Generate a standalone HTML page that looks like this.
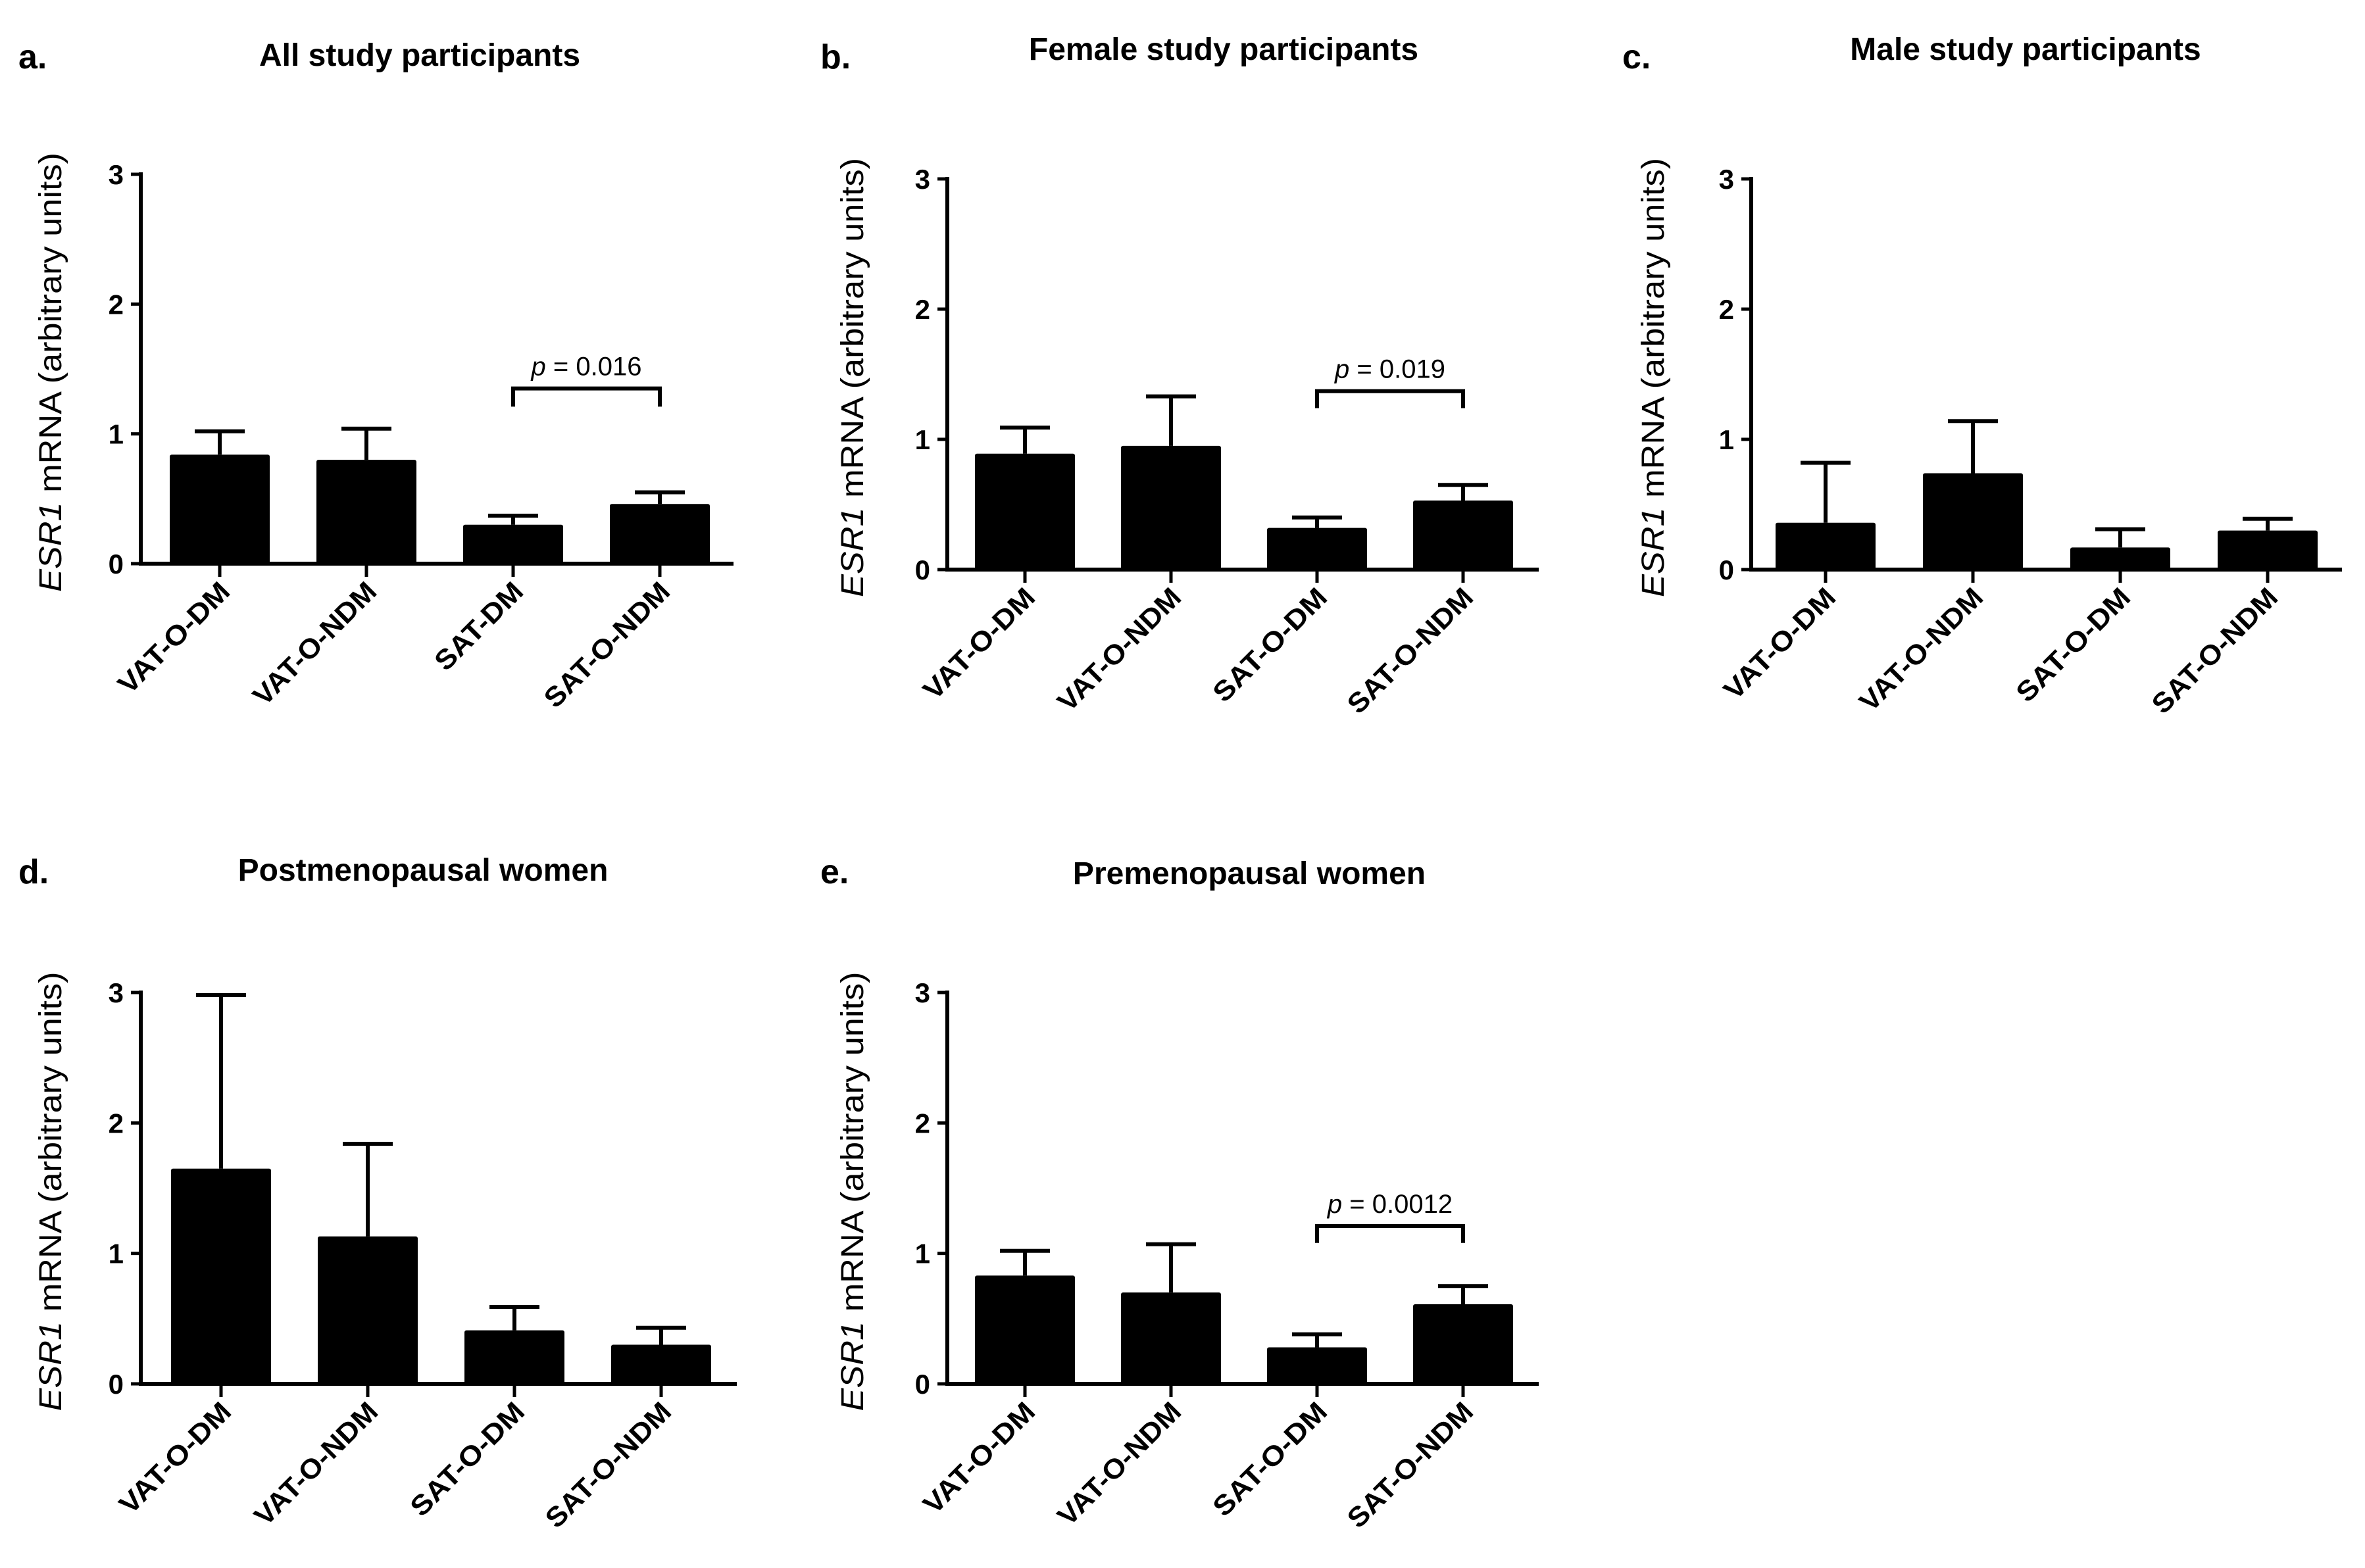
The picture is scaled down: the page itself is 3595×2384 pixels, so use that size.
<!DOCTYPE html>
<html><head><meta charset="utf-8"><style>
html,body{margin:0;padding:0;background:#fff;}
svg{display:block;font-family:"Liberation Sans",Arial,sans-serif;}
</style></head><body>
<svg id="fig" width="3595" height="2384" viewBox="0 0 3595 2384" xmlns="http://www.w3.org/2000/svg"></svg>
<script>
const categories = ["VAT-O-DM","VAT-O-NDM","SAT-O-DM","SAT-O-NDM"];
const categoriesA = ["VAT-O-DM","VAT-O-NDM","SAT-DM","SAT-O-NDM"];
const yTicks = [0,1,2,3];
const meanA = [0.84,0.80,0.30,0.46];
const errA  = [1.02,1.04,0.37,0.55];
const meanB = [0.89,0.95,0.32,0.53];
const errB  = [1.09,1.33,0.40,0.65];
const meanC = [0.36,0.74,0.17,0.30];
const errC  = [0.82,1.14,0.31,0.39];
const meanD = [1.65,1.13,0.41,0.30];
const errD  = [2.98,1.84,0.59,0.43];
const meanE = [0.83,0.70,0.28,0.61];
const errE  = [1.02,1.07,0.38,0.75];
const pLabels = ["0.016","0.019","0.0012"];

const NS="http://www.w3.org/2000/svg";
const svg=document.getElementById('fig');
function mk(tag,attrs,parent){const e=document.createElementNS(NS,tag);for(const k in attrs)e.setAttribute(k,attrs[k]);(parent||svg).appendChild(e);return e;}

const panels=[
 {id:'a',letter:'a.',title:'All study participants',cats:categoriesA,mean:meanA,err:errA,ax:214,y0:857,y3:265,xEnd:1115,c0:334,step:223,lx:28,ly:104,tx:638,ty:100,yt:93,p:{lbl:pLabels[0],top:1.35,end:1.21,i:2,j:3}},
 {id:'b',letter:'b.',title:'Female study participants',cats:categories,mean:meanB,err:errB,ax:1440,y0:866,y3:272,xEnd:2339,c0:1558,step:222,lx:1247,ly:104,tx:1860,ty:91,yt:1312,p:{lbl:pLabels[1],top:1.37,end:1.24,i:2,j:3}},
 {id:'c',letter:'c.',title:'Male study participants',cats:categories,mean:meanC,err:errC,ax:2662,y0:866,y3:272,xEnd:3560,c0:2775,step:224,lx:2466,ly:104,tx:3079,ty:91,yt:2529,p:null},
 {id:'d',letter:'d.',title:'Postmenopausal women',cats:categories,mean:meanD,err:errD,ax:214,y0:2104,y3:1509,xEnd:1120,c0:336,step:223,lx:28,ly:1343,tx:643,ty:1339,yt:93,p:null},
 {id:'e',letter:'e.',title:'Premenopausal women',cats:categories,mean:meanE,err:errE,ax:1440,y0:2104,y3:1509,xEnd:2339,c0:1558,step:222,lx:1247,ly:1343,tx:1899,ty:1344,yt:1312,p:{lbl:pLabels[2],top:1.21,end:1.08,i:2,j:3}}
];
const labelLen={"VAT-O-DM":220,"VAT-O-NDM":245,"SAT-O-DM":225,"SAT-DM":170,"SAT-O-NDM":250};

panels.forEach(P=>{
  const g=mk('g',{});
  
  
  const y=v=>P.y0-(P.y0-P.y3)*v/3;
  const x=i=>P.c0+i*P.step;
  const bw=152;
  let t=mk('text',{x:P.lx,y:P.ly,'font-size':52,'font-weight':'bold'},g);t.textContent=P.letter;
  
  t=mk('text',{x:P.tx,y:P.ty,'font-size':48,'font-weight':'bold','text-anchor':'middle'},g);t.textContent=P.title;
  
  const cy=(P.y0+P.y3)/2+5;
  t=mk('text',{x:0,y:0,'font-size':48,'text-anchor':'middle',transform:`translate(${P.yt},${cy}) rotate(-90)`,textLength:668,lengthAdjust:'spacingAndGlyphs'},g);
  const ts=mk('tspan',{'font-style':'italic'},t);ts.textContent='ESR1';
  const ts2=mk('tspan',{},t);ts2.textContent=' mRNA (arbitrary units)';
  
  P.mean.forEach((m,i)=>{
    const r=mk('rect',{x:x(i)-bw/2,y:y(m),width:bw,height:P.y0-y(m),fill:'#000',rx:3},g);
    
    const l=mk('line',{x1:x(i),x2:x(i),y1:y(m),y2:y(P.err[i]),stroke:'#000','stroke-width':6},g);
    
    const c=mk('line',{x1:x(i)-38,x2:x(i)+38,y1:y(P.err[i]),y2:y(P.err[i]),stroke:'#000','stroke-width':6},g);
    
  });
  let a=mk('line',{x1:P.ax,x2:P.ax,y1:P.y3-3,y2:P.y0+3,stroke:'#000','stroke-width':6},g);
  
  a=mk('line',{x1:P.ax-3,x2:P.xEnd,y1:P.y0,y2:P.y0,stroke:'#000','stroke-width':6},g);
  
  yTicks.forEach(v=>{
    const tk=mk('line',{x1:P.ax-15,x2:P.ax,y1:y(v),y2:y(v),stroke:'#000','stroke-width':5},g);
    
    const tl=mk('text',{x:P.ax-26,y:y(v)+15,'font-size':42,'font-weight':'bold','text-anchor':'end'},g);tl.textContent=v;
    
  });
  P.cats.forEach((c,i)=>{
    const tk=mk('line',{x1:x(i),x2:x(i),y1:P.y0,y2:P.y0+20,stroke:'#000','stroke-width':5},g);
    
    const tl=mk('text',{x:0,y:0,'font-size':42,'font-weight':'bold','text-anchor':'end',transform:`translate(${x(i)+18},${P.y0+45}) rotate(-45)`,textLength:labelLen[c],lengthAdjust:'spacingAndGlyphs'},g);
    tl.textContent=c;
    
  });
  if(P.p){
    const xi=x(P.p.i),xj=x(P.p.j),yt=y(P.p.top),ye=y(P.p.end);
    const br=mk('path',{d:`M${xi},${ye} V${yt} H${xj} V${ye}`,fill:'none',stroke:'#000','stroke-width':6},g);
    
    const pt=mk('text',{x:(xi+xj)/2,y:yt-20,'font-size':40,'text-anchor':'middle'},g);
    const p1=mk('tspan',{'font-style':'italic'},pt);p1.textContent='p';
    const p2=mk('tspan',{},pt);p2.textContent=' = '+P.p.lbl;
    
  }
});
</script>
</body></html>
